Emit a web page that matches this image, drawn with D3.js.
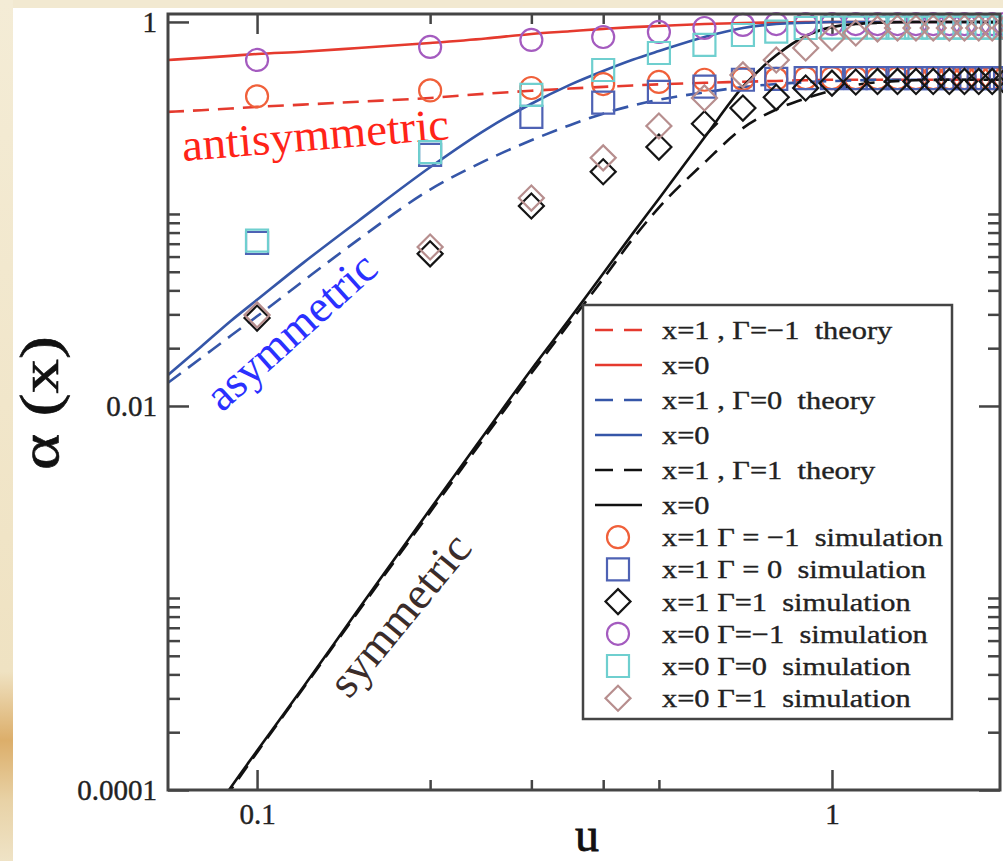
<!DOCTYPE html>
<html><head><meta charset="utf-8">
<script src="https://cdn.jsdelivr.net/npm/d3@7"></script>
<style>
html,body{margin:0;padding:0;background:#fff;}
svg{display:block;}
text{font-family:"Liberation Serif","Times New Roman",serif;}
</style></head><body>
<svg id="chart" width="1003" height="861"></svg>
<script>
// ---------- data ----------
const yTickLabels = [1, 0.01, 0.0001];
const yTickText = ["1", "0.01", "0.0001"];
const xTickLabels = [0.1, 1];
const xTickText = ["0.1", "1"];
const yMinorTicks = [0.0002,0.0003,0.0004,0.0005,0.0006,0.0007,0.0008,0.0009,0.001,
                     0.02,0.03,0.04,0.05,0.06,0.07,0.08,0.09,0.1];
const xMinorTicks = [0.2, 0.3, 0.4, 0.5];

const theoryU = [0.07,0.08,0.09,0.1,0.12,0.15,0.2,0.25,0.3,0.35,0.4,0.45,0.5,0.6,0.7,0.8,0.9,1.0,1.1,1.2,1.4,1.6,1.96];
const theoryX1Gm1 = [0.34,0.347,0.354,0.361,0.371,0.384,0.402,0.423,0.438,0.45,0.459,0.467,0.473,0.482,0.488,0.493,0.497,0.5,0.5,0.5,0.5,0.5,0.5];
const theoryX0Gm1 = [0.634,0.65,0.666,0.681,0.70,0.732,0.777,0.82,0.866,0.895,0.92,0.94,0.953,0.976,0.988,0.994,0.998,1,1,1,1,1,1];
const theoryX1G0  = [0.0132,0.0178,0.0232,0.0293,0.0445,0.0735,0.134,0.19,0.242,0.29,0.333,0.367,0.393,0.43,0.458,0.475,0.486,0.492,0.496,0.5,0.5,0.5,0.5];
const theoryX0G0  = [0.0145,0.0204,0.0277,0.0357,0.0553,0.092,0.175,0.275,0.375,0.47,0.555,0.635,0.705,0.835,0.93,0.975,0.99,1,1,1,1,1,1];
const theoryX1G1  = [3.3e-5,5.9e-5,1.0e-4,1.57e-4,3.35e-4,8.5e-4,2.8e-3,7.0e-3,0.0148,0.0272,0.046,0.074,0.108,0.185,0.28,0.35,0.40,0.44,0.47,0.485,0.497,0.5,0.5];
const theoryX0G1  = [3.4e-5,6.1e-5,1.03e-4,1.6e-4,3.4e-4,8.7e-4,2.9e-3,7.3e-3,0.0155,0.0285,0.049,0.079,0.12,0.25,0.46,0.67,0.845,0.94,0.975,0.99,1,1,1];

const simU = [0.1,0.2,0.3,0.4,0.5,0.6,0.7,0.8,0.9,1.0,1.1,1.2,1.3,1.4,1.5,1.6,1.7,1.8,1.9,2.0];
const simX1Gm1 = [0.41,0.44,0.453,0.475,0.487,0.5,0.505,0.505,0.51,0.51,0.51,0.51,0.51,0.51,0.51,0.51,0.51,0.51,0.51,0.51];
const simX1G0  = [0.0706,0.203,0.32,0.38,0.432,0.46,0.5,0.505,0.51,0.51,0.51,0.51,0.51,0.51,0.51,0.51,0.51,0.51,0.51,0.51];
const simX1G1  = [0.0287,0.062,0.11,0.166,0.223,0.295,0.356,0.405,0.453,0.48,0.487,0.49,0.49,0.49,0.49,0.49,0.49,0.49,0.49,0.49];
const simX0Gm1 = [0.634,0.741,0.806,0.835,0.887,0.93,0.965,0.975,0.975,0.975,0.975,0.975,0.975,0.975,0.975,0.975,0.975,0.975,0.975,0.975];
const simX0G0  = [0.0726,0.21,0.417,0.562,0.689,0.759,0.855,0.89,0.93,0.935,0.935,0.935,0.935,0.935,0.935,0.935,0.935,0.935,0.935,0.935];
const simX0G1  = [0.0298,0.0673,0.121,0.196,0.287,0.402,0.53,0.634,0.732,0.825,0.876,0.92,0.93,0.93,0.93,0.93,0.93,0.93,0.93,0.93];

const legendLabels = [
  "x=1 , Γ=−1  theory", "x=0", "x=1 , Γ=0  theory", "x=0", "x=1 , Γ=1  theory", "x=0",
  "x=1 Γ = −1  simulation", "x=1 Γ = 0  simulation", "x=1 Γ=1  simulation",
  "x=0 Γ=−1  simulation", "x=0 Γ=0  simulation", "x=0 Γ=1  simulation"
];

// ---------- styles ----------
const RED = "#e53a2e", BLUE = "#3556a8", BLACK = "#111";
const theorySeries = [
  {vals: theoryX1Gm1, color: RED, dash: true},
  {vals: theoryX0Gm1, color: RED, dash: false},
  {vals: theoryX1G0, color: BLUE, dash: true},
  {vals: theoryX0G0, color: BLUE, dash: false},
  {vals: theoryX1G1, color: BLACK, dash: true},
  {vals: theoryX0G1, color: BLACK, dash: false}
];
const simSeries = [
  {vals: simX1Gm1, color: "#f0603a", shape: "circle"},
  {vals: simX1G0,  color: "#4e62b4", shape: "square"},
  {vals: simX1G1,  color: "#151515", shape: "diamond"},
  {vals: simX0Gm1, color: "#a45bbf", shape: "circle"},
  {vals: simX0G0,  color: "#6fcfcf", shape: "square"},
  {vals: simX0G1,  color: "#b78e8e", shape: "diamond"}
];

const svg = d3.select("#chart");
const defs = svg.append("defs");

// background (parchment border + white page)
const lg = defs.append("linearGradient").attr("id","parch").attr("x1",0).attr("y1",0).attr("x2",0).attr("y2",1);
[[0,"#f4ecd6"],[0.78,"#efe2c2"],[0.86,"#dcae6a"],[0.93,"#e8d2a6"],[1,"#efe3c6"]].forEach(s=>
  lg.append("stop").attr("offset",s[0]).attr("stop-color",s[1]));
svg.append("rect").attr("width",1003).attr("height",861).attr("fill","#f2e9d1");
svg.append("rect").attr("x",0).attr("y",0).attr("width",13).attr("height",861).attr("fill","url(#parch)");
svg.append("rect").attr("x",13).attr("y",8).attr("width",990).attr("height",853).attr("fill","#fff");

const L = 168, R = 1000, T = 14, B = 790;
const x = d3.scaleLog().domain([0.07, 1.96]).range([L, R]);
const y = d3.scaleLog().domain([1e-4, 1.1]).range([B, T]);

defs.append("clipPath").attr("id","plotclip").append("rect")
  .attr("x",L).attr("y",T).attr("width",R-L).attr("height",B-T);

const AX = "#444";
function styleAxis(g){
  g.attr("font-size",28).attr("font-family","'Liberation Serif','Times New Roman',serif");
  g.select(".domain").remove();
  g.selectAll(".tick line").attr("stroke",AX).attr("stroke-width",2.5);
  g.selectAll(".tick text").attr("fill","#222").attr("stroke","#222").attr("stroke-width",0.4)
    .style("font-size","29px");
}
// left axis
svg.append("g").attr("transform",`translate(${L},0)`)
  .call(d3.axisLeft(y).tickValues(yTickLabels).tickSize(-21).tickSizeOuter(0).tickPadding(11)
    .tickFormat((d,i)=>yTickText[i])).call(styleAxis);
svg.append("g").attr("transform",`translate(${L},0)`)
  .call(d3.axisLeft(y).tickValues(yMinorTicks).tickSize(-12).tickSizeOuter(0).tickFormat("")).call(styleAxis);
// right axis
svg.append("g").attr("transform",`translate(${R},0)`)
  .call(d3.axisRight(y).tickValues(yTickLabels).tickSize(-21).tickSizeOuter(0).tickFormat("")).call(styleAxis);
svg.append("g").attr("transform",`translate(${R},0)`)
  .call(d3.axisRight(y).tickValues(yMinorTicks).tickSize(-12).tickSizeOuter(0).tickFormat("")).call(styleAxis);
// bottom axis
svg.append("g").attr("transform",`translate(0,${B})`)
  .call(d3.axisBottom(x).tickValues(xTickLabels).tickSize(-20).tickSizeOuter(0).tickPadding(13)
    .tickFormat((d,i)=>xTickText[i])).call(styleAxis);
svg.append("g").attr("transform",`translate(0,${B})`)
  .call(d3.axisBottom(x).tickValues(xMinorTicks).tickSize(-10).tickSizeOuter(0).tickFormat("")).call(styleAxis);
// top axis
svg.append("g").attr("transform",`translate(0,${T})`)
  .call(d3.axisTop(x).tickValues(xTickLabels).tickSize(-20).tickSizeOuter(0).tickFormat("")).call(styleAxis);
svg.append("g").attr("transform",`translate(0,${T})`)
  .call(d3.axisTop(x).tickValues(xMinorTicks).tickSize(-10).tickSizeOuter(0).tickFormat("")).call(styleAxis);

// theory lines
const line = d3.line().x(d=>x(d[0])).y(d=>y(d[1])).curve(d3.curveMonotoneX);
const linesG = svg.append("g").attr("clip-path","url(#plotclip)");
theorySeries.forEach(s=>{
  linesG.append("path").datum(theoryU.map((u,i)=>[u,s.vals[i]]))
    .attr("d",line).attr("fill","none").attr("stroke",s.color).attr("stroke-width",2.6)
    .attr("stroke-dasharray", s.dash ? "16,9" : null);
});

// annotations
svg.append("text").text("antisymmetric").attr("fill","#ff2418").style("font-size","45px")
  .attr("textLength",268).attr("lengthAdjust","spacingAndGlyphs")
  .attr("transform","translate(183,161) rotate(-4.7)");
svg.append("text").text("asymmetric").attr("fill","#2a30ff").style("font-size","45px")
  .attr("textLength",212).attr("lengthAdjust","spacingAndGlyphs")
  .attr("transform","translate(222,413) rotate(-41.8)");
svg.append("text").text("symmetric").attr("fill","#3a2c2a").style("font-size","45px")
  .attr("textLength",196).attr("lengthAdjust","spacingAndGlyphs")
  .attr("transform","translate(349,700) rotate(-50.5)");

// markers
const shapeGen = {
  circle: d3.symbol().type(d3.symbolCircle).size(Math.PI*11*11),
  square: d3.symbol().type(d3.symbolSquare).size(22*22),
  diamond: d3.symbol().type(d3.symbolSquare).size(17.7*17.7)
};
function drawMarker(g, shape, color, cx, cy){
  g.append("path").attr("d",shapeGen[shape]())
    .attr("transform",`translate(${cx},${cy})` + (shape==="diamond" ? " rotate(45)" : ""))
    .attr("fill","none").attr("stroke",color).attr("stroke-width",2.2);
}
const markG = svg.append("g");
simSeries.forEach(s=>{
  simU.forEach((u,i)=>drawMarker(markG, s.shape, s.color, x(u), y(s.vals[i])));
});

// frame
svg.append("rect").attr("x",L).attr("y",T).attr("width",R-L).attr("height",B-T)
  .attr("fill","none").attr("stroke",AX).attr("stroke-width",3);

// axis titles
svg.append("text").text("u").attr("x",587).attr("y",851).attr("text-anchor","middle")
  .attr("fill","#111").attr("stroke","#111").attr("stroke-width",0.8).style("font-size","48px");
svg.append("text").text("α (x)").attr("text-anchor","middle").attr("fill","#111")
  .attr("stroke","#111").attr("stroke-width",0.6)
  .style("font-size","54px").attr("textLength",134).attr("lengthAdjust","spacingAndGlyphs")
  .attr("transform","translate(58,403) rotate(-90)");

// legend
const lgG = svg.append("g");
lgG.append("rect").attr("x",583).attr("y",305).attr("width",369).attr("height",414)
  .attr("fill","#fff").attr("stroke",AX).attr("stroke-width",2.5);
const rowY = i => i < 6 ? 330 + 35*i : 505 + 32.2*(i-5);
legendLabels.forEach((lab,i)=>{
  const yy = rowY(i);
  if (i < 6) {
    const s = theorySeries[i];
    lgG.append("line").attr("x1",595).attr("x2",642).attr("y1",yy).attr("y2",yy)
      .attr("stroke",s.color).attr("stroke-width",2.6)
      .attr("stroke-dasharray", s.dash ? "18,11" : null);
  } else {
    const s = simSeries[i-6];
    drawMarker(lgG, s.shape, s.color, 618, yy);
  }
  lgG.append("text").text(lab).attr("fill","#222").attr("stroke","#222").attr("stroke-width",0.35)
    .style("font-size","26px").style("white-space","pre")
    .attr("transform",`translate(662,${yy+9}) scale(1.17,1)`);
});
</script>
</body></html>
